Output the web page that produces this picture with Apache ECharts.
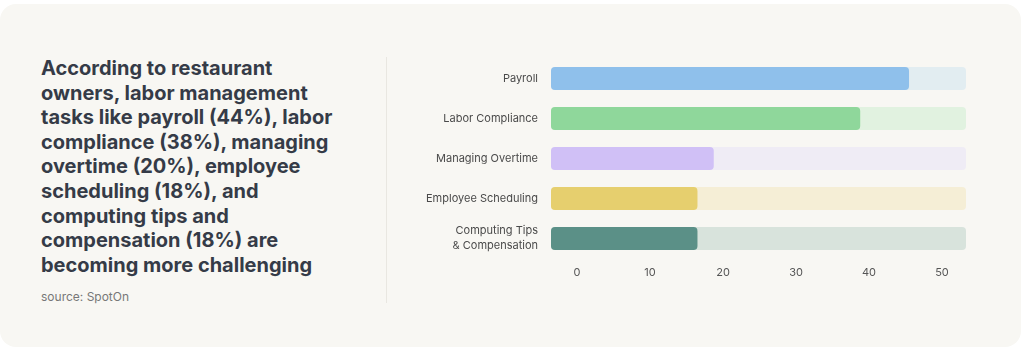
<!DOCTYPE html>
<html>
<head>
<meta charset="utf-8">
<script src="https://cdn.jsdelivr.net/npm/echarts@6/dist/echarts.min.js"></script>
<style>
  html, body { margin: 0; padding: 0; background: #ffffff; }
  .card {
    position: absolute; left: 0; top: 4px; width: 1021px; height: 343px;
    background: #f8f7f3; border-radius: 16px;
  }
  .headline {
    position: absolute; left: 41px; top: 56px; width: 340px;
    font-family: Inter, "Noto Sans", sans-serif; font-weight: 700;
    font-size: 20px; line-height: 24.6px; color: #353b47;
  }
  .source {
    position: absolute; left: 41px; top: 289px;
    font-family: Inter, "Noto Sans", sans-serif; font-size: 12px; color: #777777;
  }
  .divider {
    position: absolute; left: 386px; top: 57px; width: 1px; height: 246px;
    background: #e9e7e1;
  }
  #chart { position: absolute; left: 0; top: 0; width: 1024px; height: 351px; }
</style>
</head>
<body>
<div class="card"></div>
<div class="headline">According to restaurant<br>owners, labor management<br>tasks like payroll (44%), labor<br>compliance (38%), managing<br>overtime (20%), employee<br>scheduling (18%), and<br>computing tips and<br>compensation (18%) are<br>becoming more challenging</div>
<div class="source">source: SpotOn</div>
<div class="divider"></div>
<div id="chart"></div>
<script>
// categories and values (percent of restaurant owners)
const categories = ['Payroll', 'Labor Compliance', 'Managing Overtime', 'Employee Scheduling', 'Computing Tips\n& Compensation'];
const values = [44, 38, 20, 18, 18];
const barColors = ['#8fc0eb', '#8fd79b', '#d0c0f6', '#e6cf6e', '#5b9087'];
const trackColors = ['#e2edf1', '#e1f2e0', '#efecf5', '#f5eed6', '#d8e3dc'];
const tickValues = [0, 10, 20, 30, 40, 50];
const trackMax = 51;

const chart = echarts.init(document.getElementById('chart'));

const option = {
  backgroundColor: 'transparent',
  animation: false,
  textStyle: { fontFamily: 'Inter, "Noto Sans", sans-serif' },
  grid: [
    { left: 551, width: 415, top: 58.5, height: 200 },
    // tick labels sit on their own scale
    { left: 577, width: 365, top: 58.5, height: 200 }
  ],
  xAxis: [
    {
      gridIndex: 0, type: 'value', min: 0, max: trackMax, show: false
    },
    {
      gridIndex: 1, type: 'value', min: 0, max: tickValues[tickValues.length - 1], interval: 10,
      axisLine: { show: false }, axisTick: { show: false }, splitLine: { show: false },
      axisLabel: { color: '#555', fontSize: 11, margin: 9 }
    }
  ],
  yAxis: [
    {
      gridIndex: 0, type: 'category', data: categories, inverse: true,
      axisLine: { show: false }, axisTick: { show: false },
      axisLabel: { color: '#4a4a4a', fontSize: 11, margin: 13, align: 'right', lineHeight: 15, padding: [3, 0, 0, 0] }
    },
    {
      gridIndex: 1, type: 'category', data: categories, inverse: true, show: false
    }
  ],
  series: [
    {
      name: 'track', type: 'bar', xAxisIndex: 0, yAxisIndex: 0,
      barWidth: 23, barGap: '-100%', silent: true, z: 1,
      data: categories.map((c, i) => ({
        value: trackMax,
        itemStyle: { color: trackColors[i], borderRadius: 4 }
      }))
    },
    {
      name: 'share', type: 'bar', xAxisIndex: 0, yAxisIndex: 0,
      barWidth: 23, z: 2,
      data: values.map((v, i) => ({
        value: v,
        itemStyle: { color: barColors[i], borderRadius: 4 }
      }))
    },
    {
      name: 'ticks', type: 'bar', xAxisIndex: 1, yAxisIndex: 1, data: []
    }
  ]
};

chart.setOption(option);
</script>
</body>
</html>
